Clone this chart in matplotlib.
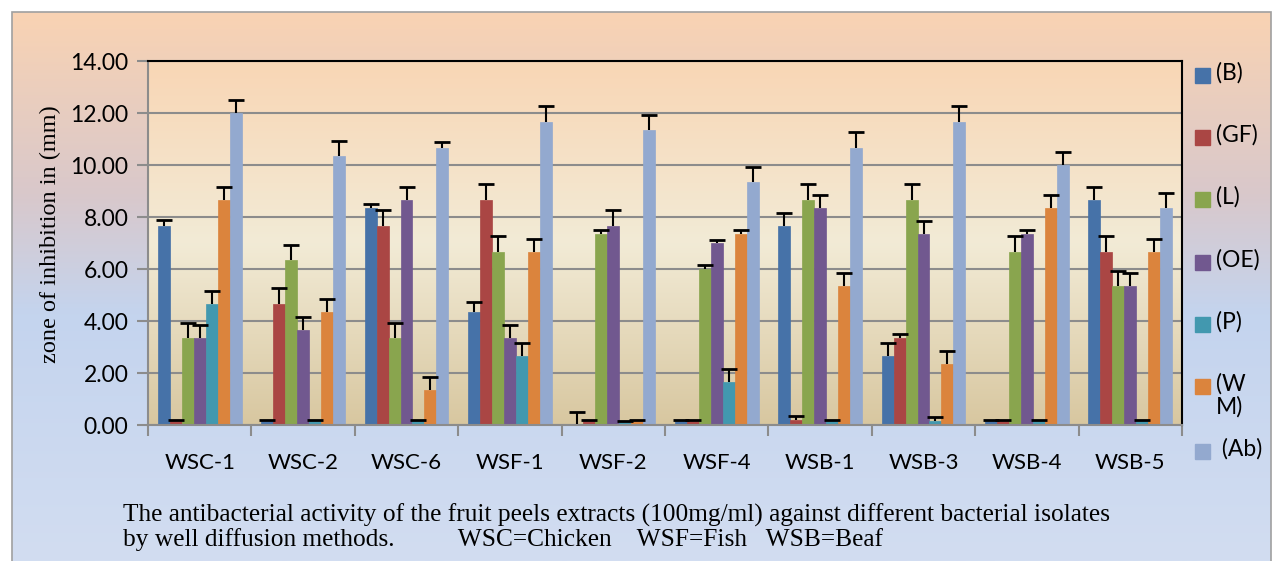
import matplotlib
matplotlib.use("Agg")
import matplotlib.pyplot as plt
import numpy as np
from matplotlib.colors import LinearSegmentedColormap
from matplotlib.patches import Rectangle

groups = ["WSC-1", "WSC-2", "WSC-6", "WSF-1", "WSF-2", "WSF-4", "WSB-1", "WSB-3", "WSB-4", "WSB-5"]
series = ["(B)", "(GF)", "(L)", "(OE)", "(P)", "(W\nM)", " (Ab)"]
colors = ["#4672A8", "#AA4644", "#89A54E", "#71588F", "#4298AF", "#DB843D", "#93A9CF"]

B = [7.67, 0.15, 8.33, 4.33, 0.05, 0.15, 7.67, 2.67, 0.15, 8.67]
B_err = [0.2, 0.05, 0.17, 0.4, 0.45, 0.05, 0.5, 0.5, 0.05, 0.5]
GF = [0.15, 4.67, 7.67, 8.67, 0.15, 0.15, 0.2, 3.33, 0.15, 6.67]
GF_err = [0.05, 0.6, 0.6, 0.6, 0.05, 0.05, 0.15, 0.17, 0.05, 0.6]
L = [3.33, 6.33, 3.33, 6.67, 7.33, 6.0, 8.67, 8.67, 6.67, 5.33]
L_err = [0.6, 0.6, 0.6, 0.6, 0.17, 0.17, 0.6, 0.6, 0.6, 0.6]
OE = [3.33, 3.67, 8.67, 3.33, 7.67, 7.0, 8.33, 7.33, 7.33, 5.33]
OE_err = [0.5, 0.5, 0.5, 0.5, 0.6, 0.1, 0.5, 0.5, 0.17, 0.5]
P = [4.67, 0.15, 0.15, 2.67, 0.1, 1.67, 0.15, 0.15, 0.15, 0.15]
P_err = [0.5, 0.05, 0.05, 0.5, 0.05, 0.5, 0.05, 0.15, 0.05, 0.05]
WM = [8.67, 4.33, 1.33, 6.67, 0.15, 7.33, 5.33, 2.33, 8.33, 6.67]
WM_err = [0.5, 0.5, 0.5, 0.5, 0.05, 0.17, 0.5, 0.5, 0.5, 0.5]
Ab = [12.0, 10.33, 10.67, 11.67, 11.33, 9.33, 10.67, 11.67, 10.0, 8.33]
Ab_err = [0.5, 0.6, 0.2, 0.6, 0.6, 0.6, 0.6, 0.6, 0.5, 0.6]

values = [B, GF, L, OE, P, WM, Ab]
errors = [B_err, GF_err, L_err, OE_err, P_err, WM_err, Ab_err]

W, H = 1273, 561
fig = plt.figure(figsize=(W / 100, H / 100), dpi=100)

# outer chart background (peach -> blue)
bg = fig.add_axes([12 / W, 0, (1271 - 12) / W, (H - 12) / H], zorder=-10)
outer_cmap = LinearSegmentedColormap.from_list(
    "outer", [(0, "#F9D3B3"), (0.33, "#D9C8CB"), (0.55, "#C4D4EE"), (1, "#D2DDF1")])
bg.imshow(np.linspace(0, 1, 256)[:, None], aspect="auto", cmap=outer_cmap, extent=[0, 1, 0, 1])
bg.set_xlim(0, 1)
bg.set_ylim(0, 1)
bg.axis("off")
bg.add_patch(Rectangle((0, -0.1), 1, 1.1, fill=False, edgecolor="#A0A0A0", lw=1.2,
                       transform=bg.transAxes, clip_on=False))

ax = fig.add_axes([148 / W, (H - 425) / H, (1182 - 148) / W, (425 - 61) / H])
x = np.arange(len(groups))
ax.set_xlim(-0.5, len(groups) - 0.5)
ax.set_ylim(0, 14)

# plot area gradient (peach -> cream -> tan)
inner_cmap = LinearSegmentedColormap.from_list(
    "inner", [(0, "#D8C7A0"), (0.5, "#F2EBD6"), (1, "#F9D6B5")])
ax.imshow(np.linspace(0, 1, 256)[:, None], aspect="auto", cmap=inner_cmap,
          extent=[-0.5, len(groups) - 0.5, 0, 14], origin="lower", zorder=0)

ax.set_yticks(np.arange(0, 15, 2))
ax.grid(axis="y", color="#8C8C8C", lw=1.5, zorder=1)

bw = 0.116
for j, (vals, errs, c) in enumerate(zip(values, errors, colors)):
    xs = x + (j - 3) * bw
    ax.bar(xs, vals, width=bw, color=c, edgecolor=c, linewidth=0.5, zorder=2)
    eb = ax.errorbar(xs, vals, yerr=[np.zeros(len(errs)), errs], fmt="none", ecolor="black",
                     elinewidth=1.5, capsize=6, capthick=2, zorder=3)
    eb[1][0].set_visible(False)  # only the upper cap

ax.set_yticklabels([f"{v:.2f}" for v in np.arange(0, 15, 2)], fontsize=16.5, family="Lato")
ax.set_xticks(x)
ax.set_xticklabels(groups, fontsize=16, family="Lato")
ax.set_xticks(np.arange(-0.5, len(groups)), minor=True)
ax.tick_params(axis="x", which="major", length=0, pad=20)
ax.tick_params(axis="x", which="minor", length=8, color="#8C8C8C", width=1.5)
ax.tick_params(axis="y", length=8, color="#8C8C8C", width=1.5, pad=6)

for side in ["top", "right"]:
    ax.spines[side].set_color("black")
    ax.spines[side].set_linewidth(1.5)
for side in ["left", "bottom"]:
    ax.spines[side].set_color("#8C8C8C")
    ax.spines[side].set_linewidth(1.5)

fig.text(50 / W, 1 - 234 / H, "zone of inhibition in (mm)", rotation=90, ha="center", va="center",
         fontsize=17.5, family="Liberation Serif")

# legend drawn on the right
leg_y = [75, 137, 199, 262, 324, 386, 451]
for name, c, yy in zip(series, colors, leg_y):
    fig.patches.append(Rectangle((1195 / W, 1 - (yy + 7.5) / H), 15 / W, 15 / H, color=c,
                                 transform=fig.transFigure))
    fig.text(1216 / W, 1 - (yy - 13) / H, name, fontsize=16.5, family="Lato", va="top",
             ha="left", linespacing=1.1)

fig.text(123 / W, 1 - 515 / H,
         "The antibacterial activity of the fruit peels extracts (100mg/ml) against different bacterial isolates",
         fontsize=18.3, family="Liberation Serif", va="center", ha="left")
fig.text(123 / W, 1 - 540 / H,
         "by well diffusion methods.          WSC=Chicken    WSF=Fish   WSB=Beaf",
         fontsize=18.3, family="Liberation Serif", va="center", ha="left")

fig.savefig("out.png", dpi=100)
